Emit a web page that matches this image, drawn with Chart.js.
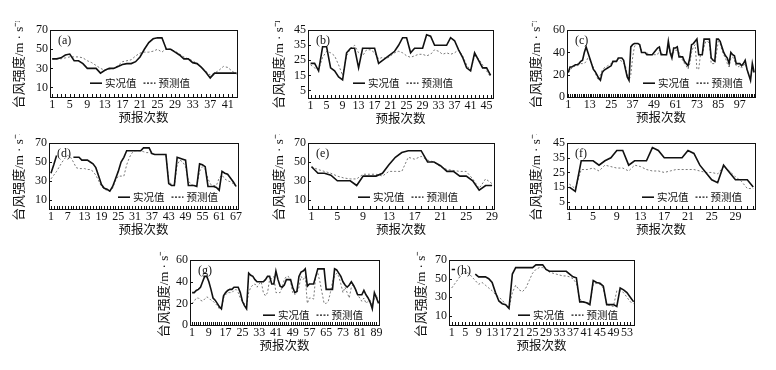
<!DOCTYPE html>
<html><head><meta charset="utf-8">
<script src="https://cdn.jsdelivr.net/npm/chart.js@4.4.1/dist/chart.umd.min.js"></script>
<style>
html,body{margin:0;padding:0;background:#fff;}
#wrap{position:relative;width:776px;height:370px;overflow:hidden;background:#fff;}
canvas{position:absolute;}
</style></head><body><div id="wrap"></div>
<script>
// ---------- data ----------
const actA=[40,40,41,44,45,38,38,35,30,30,30,25,28,30,30,32,34,35,35,37,42,50,57,61,62,62,50,50,47,44,40,40,36,35,31,26,20,25,25,25,25,25,25];
const predA=[40,40,40,41,42,42,42,41,38,36,33,30,28,29,30,33,37,38,39,43,46,47,47,48,50,47,51,50,48,45,42,40,38,35,31,27,23,25,28,32,31,27,24];
const actB=[23,23,18,34,34,20,18,14,12,30,33,33,20,33,33,33,33,23,25,27,29,31,35,40,40,30,33,33,33,42,41,35,35,35,35,40,38,32,27,20,18,30,25,20,20,15];
const predB=[22,20,19,27,31,30,28,22,15,28,33,35,30,28,32,32,30,26,27,26,28,30,31,30,28,27,28,29,29,28,29,32,31,29,30,29,30,32,28,22,18,28,26,22,18,14];
const actC=[22,27,27,28,29,29,30,32,33,40,45,40,35,30,25,23,20,17,15,22,24,25,26,27,28,32,32,32,35,35,35,33,25,18,15,45,47,48,48,48,47,40,40,40,38,38,38,38,40,42,44,45,38,38,38,38,50,40,35,44,44,45,36,36,36,32,30,28,35,47,48,50,52,38,38,38,52,52,52,52,35,33,32,52,52,50,45,40,37,35,30,40,38,37,30,30,30,28,30,33,25,20,15,30,22];
const predC=[22,24,26,27,28,28,29,30,30,30,32,35,34,30,27,22,18,15,20,24,26,27,28,29,30,31,32,33,34,33,32,30,28,20,15,20,35,45,48,48,46,42,40,40,40,38,38,38,38,38,38,42,40,38,38,38,45,42,38,40,42,42,40,36,33,30,28,25,30,40,45,47,25,25,38,38,45,50,50,48,30,30,30,40,50,48,42,38,35,30,27,35,36,33,28,27,28,26,28,30,25,20,17,25,22];
const actD=[38,47,57,null,null,null,null,null,55,55,55,52,52,52,50,48,44,35,26,22,21,19,24,32,40,50,55,62,62,62,62,62,62,65,65,65,59,58,58,58,58,58,27,25,25,55,54,53,52,25,25,25,24,48,47,45,24,24,24,23,20,40,38,37,33,29,24];
const predD=[32,36,40,45,50,54,57,55,50,44,43,43,43,42,42,40,36,30,24,21,20,19,22,30,35,35,35,47,55,60,62,62,62,61,60,60,59,58,58,58,58,57,30,26,25,47,52,50,45,30,26,25,25,40,45,42,32,26,25,25,33,36,32,30,29,27,24];
const actE=[45,38,38,36,30,30,30,25,35,35,35,38,47,55,60,62,62,62,50,50,46,40,40,35,35,30,20,25,25];
const predE=[45,42,40,38,35,33,32,32,37,37,37,35,40,40,40,55,53,56,52,50,45,42,41,40,40,32,22,32,27];
const actF=[15,12,33,33,33,30,33,35,40,40,30,33,33,33,42,40,35,35,35,35,40,38,30,25,20,18,30,25,20,20,20,15];
const predF=[17,14,27,27,28,26,30,29,28,28,26,30,29,27,26,26,25,26,27,27,27,27,26,25,25,24,29,26,22,19,14,14];
const actG=[30,30,32,33,35,40,45,45,40,33,25,23,20,17,15,27,30,32,33,33,35,35,35,30,22,18,15,48,46,45,42,40,40,40,40,42,45,45,38,38,50,42,36,35,37,42,42,42,35,30,31,45,49,50,52,36,38,38,38,45,52,52,52,52,33,33,33,33,52,51,48,45,40,37,35,37,40,37,33,28,28,28,32,28,25,21,15,30,25,20];
const predG=[20,22,25,25,23,22,24,26,25,23,22,20,18,15,14,25,28,30,30,30,32,33,30,25,22,20,18,30,35,37,38,35,38,40,30,27,30,42,43,45,30,30,30,35,42,45,45,40,30,28,30,35,45,42,45,20,25,25,24,45,48,40,30,20,20,22,30,40,45,48,45,38,30,35,30,25,35,38,33,28,25,22,25,20,22,23,18,25,28,20];
const actH=[60,60,null,null,null,null,null,55,52,52,52,50,46,35,26,23,22,18,55,62,62,62,62,62,62,65,65,65,60,58,58,58,58,58,58,55,52,51,25,25,24,22,48,46,45,42,22,22,22,20,40,38,35,30,25];
const predH=[40,45,50,55,58,56,52,48,44,46,43,40,37,33,30,27,22,18,35,43,38,36,40,48,56,60,62,62,60,57,56,55,54,53,53,52,50,45,28,25,24,24,44,45,44,40,22,21,20,37,37,35,30,25,23];

const yTicks70=[10,30,50,70];
const yTicks60=[0,20,40,60];
const yTicks45=[5,15,25,35,45];
const xLabA=[1,5,9,13,17,21,25,29,33,37,41];
const xLabB=[1,5,9,13,17,21,25,29,33,37,41,45];
const xLabC=[1,13,25,37,49,61,73,85,97];
const xLabD=[1,7,13,19,25,31,37,43,49,55,61,67];
const xLabE=[1,5,9,13,17,21,25,29];
const xLabF=[1,5,9,13,17,21,25,29];
const xLabG=[1,9,17,25,33,41,49,57,65,73,81,89];
const xLabH=[1,5,9,13,17,21,25,29,33,37,41,45,49,53];

const seriesNames=['实况值','预测值'];
const xTitle='预报次数';
const yTitle='台风强度/m · s⁻¹';

// ---------- layout ----------
const PT=8, PR=8, XH=29;
const panels=[
 {lab:'(a)',L:50,T:29,R:237,B:97,xmin:0.5,xmax:43.1,ymin:0,ymax:70,yt:yTicks70,xl:xLabA,act:actA,pred:predA,yw:38,lg:[40,53]},
 {lab:'(b)',L:308,T:29,R:493,B:98,xmin:0.35,xmax:46.6,ymin:0,ymax:45,yt:yTicks45,xl:xLabB,act:actB,pred:predB,yw:36,lg:[45,53]},
 {lab:'(c)',L:567,T:29,R:755,B:97,xmin:0.3,xmax:105.5,ymin:0,ymax:60,yt:yTicks60,xl:xLabC,act:actC,pred:predC,yw:38,lg:[76,53]},
 {lab:'(d)',L:49,T:142,R:238,B:209,xmin:0.3,xmax:67.7,ymin:0,ymax:70,yt:yTicks70,xl:xLabD,act:actD,pred:predD,yw:37,lg:[69,54]},
 {lab:'(e)',L:308,T:142,R:494,B:209,xmin:0.45,xmax:29.3,ymin:0,ymax:70,yt:yTicks70,xl:xLabE,act:actE,pred:predE,yw:36,lg:[50,54]},
 {lab:'(f)',L:567,T:142,R:755,B:209,xmin:0.6,xmax:32.3,ymin:0,ymax:45,yt:yTicks45,xl:xLabF,act:actF,pred:predF,yw:38,lg:[75,54]},
 {lab:'(g)',L:190,T:259,R:379,B:325,xmin:0,xmax:90.2,ymin:0,ymax:60,yt:yTicks60,xl:xLabG,act:actG,pred:predG,yw:33,lg:[73,55]},
 {lab:'(h)',L:449,T:259,R:634,B:325,xmin:0.2,xmax:55.1,ymin:0,ymax:70,yt:yTicks70,xl:xLabH,act:actH,pred:predH,yw:35,lg:[69,55]}
];

const SERIF='"Liberation Serif"';
const CJK='"Liberation Serif", "Noto Sans CJK SC"';
const wrap=document.getElementById('wrap');

function mk(p){
  const c=document.createElement('canvas');
  const W=p.yw+(p.R-p.L)+PR, H=PT+(p.B-p.T)+XH;
  c.width=W; c.height=H;
  c.style.left=(p.L-p.yw)+'px'; c.style.top=(p.T-PT)+'px';
  c.style.width=W+'px'; c.style.height=H+'px';
  wrap.appendChild(c);
  const deco={
    id:'deco'+p.lab,
    afterDatasetsDraw(chart){
      const ctx=chart.ctx, a=chart.chartArea, xs=chart.scales.x, ys=chart.scales.y;
      ctx.save();
      ctx.strokeStyle='#111'; ctx.lineWidth=1;
      ctx.strokeRect(Math.round(a.left)+0.5,Math.round(a.top)+0.5,Math.round(a.right-a.left),Math.round(a.bottom-a.top));
      ctx.beginPath();
      for(let v=Math.ceil(p.xmin);v<=Math.floor(p.xmax);v++){
        const x=Math.round(xs.getPixelForValue(v))+0.5;
        ctx.moveTo(x,a.bottom); ctx.lineTo(x,a.bottom-3);
      }
      p.yt.forEach(v=>{const y=Math.round(ys.getPixelForValue(v))+0.5; ctx.moveTo(a.left,y); ctx.lineTo(a.left+3,y);});
      ctx.stroke();
      ctx.fillStyle='#111'; ctx.font='12px '+SERIF; ctx.textBaseline='middle'; ctx.textAlign='left';
      ctx.fillText(p.lab,a.left+8,a.top+11);
      let x=a.left+p.lg[0]; const y=a.top+p.lg[1];
      ctx.font='10.5px "Noto Sans CJK SC"';
      ctx.beginPath(); ctx.lineWidth=1.6; ctx.moveTo(x,y); ctx.lineTo(x+12,y); ctx.stroke();
      x+=15; ctx.fillText(seriesNames[0],x,y); x+=ctx.measureText(seriesNames[0]).width+7;
      ctx.beginPath(); ctx.lineWidth=1.2; ctx.setLineDash([2,1.5]); ctx.moveTo(x,y); ctx.lineTo(x+12,y); ctx.stroke(); ctx.setLineDash([]);
      x+=15; ctx.fillText(seriesNames[1],x,y);
      ctx.restore();
    }
  };
  new Chart(c,{
    type:'line',
    data:{datasets:[
      {label:seriesNames[0],data:p.act.map((v,i)=>({x:i+1,y:v})),borderColor:'#111',borderWidth:1.6,pointRadius:0,tension:0,spanGaps:false,order:1},
      {label:seriesNames[1],data:p.pred.map((v,i)=>({x:i+1,y:v})),borderColor:'#777',borderWidth:1,borderDash:[2,2],pointRadius:0,tension:0,order:2}
    ]},
    options:{
      responsive:false,animation:false,devicePixelRatio:1,
      layout:{padding:{top:PT,right:PR,left:0,bottom:0}},
      plugins:{legend:{display:false},tooltip:{enabled:false}},
      scales:{
        x:{type:'linear',min:p.xmin,max:p.xmax,
          grid:{display:false,drawTicks:false},border:{display:false},
          afterBuildTicks:s=>{s.ticks=p.xl.map(v=>({value:v}));},
          afterFit:s=>{s.height=XH;},
          ticks:{autoSkip:false,maxRotation:0,minRotation:0,padding:1,color:'#111',font:{family:SERIF,size:12},callback:v=>String(v)},
          title:{display:true,text:xTitle,padding:0,color:'#111',font:{family:CJK,size:12.5}}},
        y:{type:'linear',min:p.ymin,max:p.ymax,
          grid:{display:false,drawTicks:false},border:{display:false},
          afterBuildTicks:s=>{s.ticks=p.yt.map(v=>({value:v}));},
          afterFit:s=>{s.width=p.yw;},
          ticks:{autoSkip:false,padding:2,color:'#111',font:{family:SERIF,size:12},callback:v=>String(v)},
          title:{display:true,text:yTitle,padding:0,color:'#111',font:{family:CJK,size:13}}}
      }
    },
    plugins:[deco]
  });
}
panels.forEach(mk);
</script></body></html>
